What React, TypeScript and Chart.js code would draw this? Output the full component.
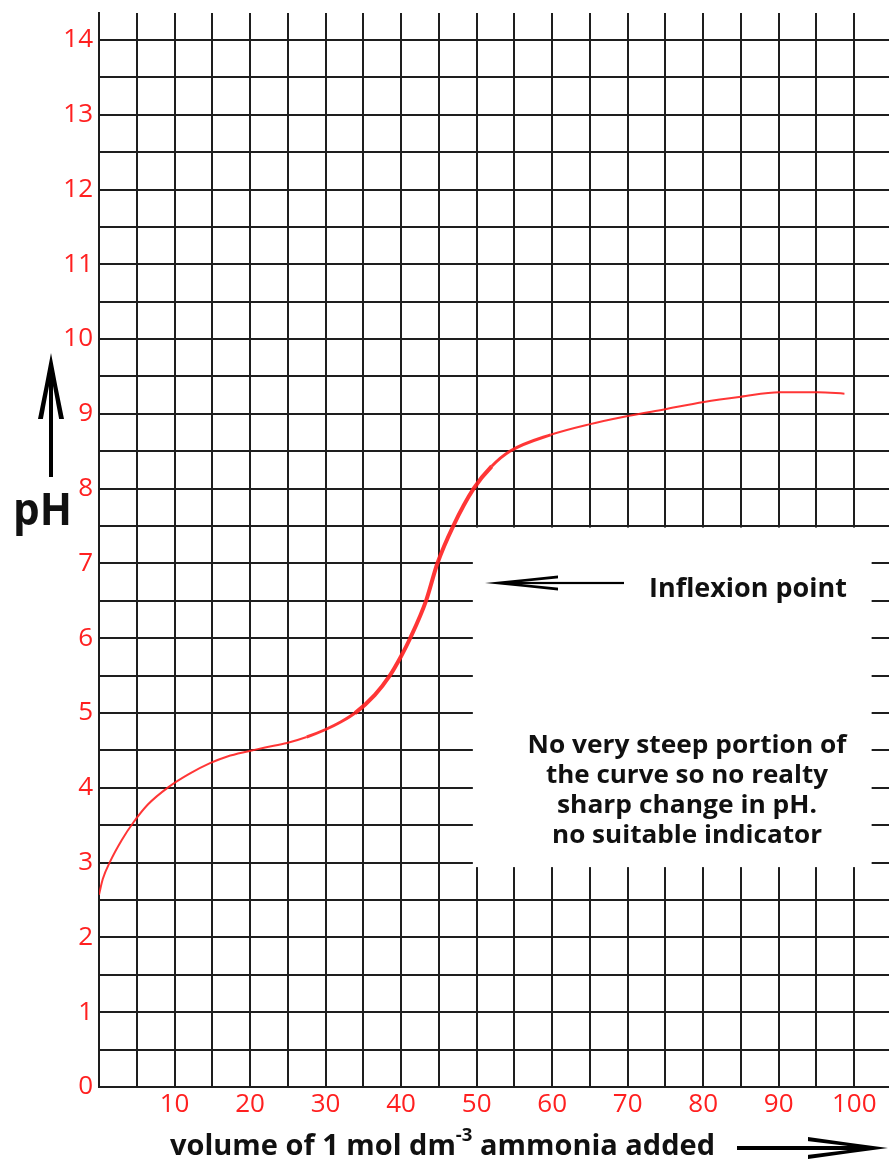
import React, { useEffect, useRef } from "react";
import { Chart, registerables } from "chart.js";

Chart.register(...registerables);

// ---- data ----
const volumes = [0, 0.5, 1.5, 3, 4.5, 6.5, 9.2, 12, 14.7, 17, 19.8, 22, 24.9, 27.5, 30, 32, 33.9, 36.5, 38.5, 40, 41.2, 43.3, 44.8, 46.9, 49.6, 52, 54.4, 59.8, 64.9, 70, 74.8, 80.1, 85, 90.1, 95.2, 98.7];
const phValues = [2.57, 2.78, 3.02, 3.3, 3.53, 3.78, 4.01, 4.19, 4.33, 4.42, 4.49, 4.54, 4.6, 4.68, 4.78, 4.88, 5.0, 5.24, 5.5, 5.76, 6.0, 6.5, 7.0, 7.5, 8.0, 8.3, 8.5, 8.72, 8.86, 8.97, 9.06, 9.16, 9.23, 9.29, 9.29, 9.27];

const xTickLabels = ["10", "20", "30", "40", "50", "60", "70", "80", "90", "100"];
const yTickLabels = ["0", "1", "2", "3", "4", "5", "6", "7", "8", "9", "10", "11", "12", "13", "14"];
const xGridStep = 5;
const yGridStep = 0.5;

const xTitleA = "volume of 1 mol dm";
const xTitleSup = "-3";
const xTitleB = " ammonia added";
const yTitle = "pH";
const inflexionText = "Inflexion point";
const noteLines = [
  "No very steep portion of",
  "the curve so no realty",
  "sharp change in pH.",
  "no suitable indicator",
];

// note box extent in data units
const boxVolume = [49.5, 102.3];
const boxPh = [2.94, 7.48];

const RED = "#ff2020";
const GRID = "#1e1e1e";
const FONT = "'Open Sans', 'Noto Sans', sans-serif";

function fitText(
  ctx: CanvasRenderingContext2D,
  text: string,
  x: number,
  y: number,
  font: string,
  width: number,
  align: CanvasTextAlign
) {
  ctx.save();
  ctx.font = font;
  const w = ctx.measureText(text).width;
  const s = width / w;
  ctx.translate(x, y);
  ctx.scale(s, 1);
  ctx.textAlign = align;
  ctx.textBaseline = "alphabetic";
  ctx.fillStyle = "#111";
  ctx.fillText(text, 0, 0);
  ctx.restore();
}

function arrow(
  ctx: CanvasRenderingContext2D,
  x0: number,
  y0: number,
  x1: number,
  y1: number,
  shaftW: number,
  L: number,
  hw: number
) {
  const ang = Math.atan2(y1 - y0, x1 - x0);
  const len = Math.hypot(x1 - x0, y1 - y0);
  ctx.save();
  ctx.translate(x1, y1);
  ctx.rotate(ang);
  // head
  ctx.fillStyle = "#000";
  ctx.beginPath();
  ctx.moveTo(0, 0);
  ctx.quadraticCurveTo(-0.5 * L, -0.47 * hw, -L, -hw);
  ctx.lineTo(-L, hw);
  ctx.quadraticCurveTo(-0.5 * L, 0.47 * hw, 0, 0);
  ctx.closePath();
  ctx.fill();
  // slits between barbs and shaft
  const bt = Math.max(2.2, hw * 0.36);
  ctx.fillStyle = "#fff";
  for (const sg of [-1, 1]) {
    ctx.beginPath();
    ctx.moveTo(-L - 1, sg * (hw - bt));
    ctx.lineTo(-0.5 * L, sg * shaftW * 0.5);
    ctx.lineTo(-L - 1, sg * shaftW * 0.5);
    ctx.closePath();
    ctx.fill();
  }
  // shaft
  ctx.fillStyle = "#000";
  ctx.fillRect(-len, -shaftW / 2, len - 0.5 * L, shaftW);
  ctx.restore();
}

const boxPlugin = {
  id: "noteBox",
  beforeDatasetsDraw(chart: any) {
    const { ctx, scales } = chart;
    const l = scales.x.getPixelForValue(boxVolume[0]);
    const r = scales.x.getPixelForValue(boxVolume[1]);
    const t = scales.y.getPixelForValue(boxPh[1]);
    const b = scales.y.getPixelForValue(boxPh[0]);
    ctx.save();
    ctx.fillStyle = "#fff";
    ctx.fillRect(l, t, r - l, b - t);
    ctx.restore();
  },
};

const decorPlugin = {
  id: "decor",
  afterDraw(chart: any) {
    const ctx: CanvasRenderingContext2D = chart.ctx;
    // y title with up arrow
    arrow(ctx, 51, 477, 51, 353, 4, 66, 13);
    fitText(ctx, yTitle, 13, 525, `bold 44px ${FONT}`, 59, "left");

    // x title with superscript
    ctx.save();
    const f1 = `bold 28px ${FONT}`;
    const f2 = `bold 18px ${FONT}`;
    ctx.font = f1;
    const wA = ctx.measureText(xTitleA).width;
    const wC = ctx.measureText(xTitleB).width;
    ctx.font = f2;
    const wB = ctx.measureText(xTitleSup).width;
    const s = 545 / (wA + wB + wC);
    ctx.translate(170, 1155);
    ctx.scale(s, 1);
    ctx.fillStyle = "#111";
    ctx.textBaseline = "alphabetic";
    ctx.font = f1;
    ctx.fillText(xTitleA, 0, 0);
    ctx.font = f2;
    ctx.fillText(xTitleSup, wA, -14);
    ctx.font = f1;
    ctx.fillText(xTitleB, wA + wB, 0);
    ctx.restore();
    arrow(ctx, 737, 1148, 888, 1148, 4, 80, 11);

    // inflexion annotation
    arrow(ctx, 624, 583, 485, 583, 2.2, 73, 7.5);
    fitText(ctx, inflexionText, 847, 597, `bold 27px ${FONT}`, 198, "right");

    const widths = [319, 282, 260, 270];
    const baselines = [753, 783, 813, 843];
    noteLines.forEach((t, i) =>
      fitText(ctx, t, 687, baselines[i], `bold 25px ${FONT}`, widths[i], "center")
    );
  },
};

function gridTicks(count: number, step: number) {
  const out: { value: number }[] = [];
  for (let i = 0; i <= count; i++) out.push({ value: Math.round(i * step * 1000) / 1000 });
  return out;
}

export default function App() {
  const ref = useRef<HTMLCanvasElement>(null);
  useEffect(() => {
    const canvas = ref.current!;
    const chart = new Chart(canvas, {
      type: "line",
      data: {
        datasets: [
          {
            data: volumes.map((v, i) => ({ x: v, y: phValues[i] })),
            borderColor: "rgba(255,32,32,0.9)",
            borderWidth: 2,
            pointRadius: 0,
            fill: false,
            cubicInterpolationMode: "monotone",
            segment: {
              borderWidth: (c: any) => {
                const m = (c.p0.parsed.x + c.p1.parsed.x) / 2;
                if (m < 27) return 2;
                if (m < 33) return 3;
                if (m < 53) return 4;
                if (m < 62) return 3;
                return 2;
              },
            },
          } as any,
        ],
      },
      options: {
        animation: false,
        responsive: false,
        devicePixelRatio: 1,
        events: [],
        layout: { padding: { top: 13, left: 0, right: 0, bottom: 0 } },
        plugins: { legend: { display: false }, tooltip: { enabled: false } },
        scales: {
          x: {
            type: "linear",
            min: 0,
            max: 104.6,
            afterBuildTicks: (s: any) => {
              s.ticks = gridTicks(xTickLabels.length * 2, xGridStep);
            },
            afterFit: (s: any) => {
              s.height = 77;
              s.paddingLeft = 0;
              s.paddingRight = 0;
            },
            ticks: {
              autoSkip: false,
              maxRotation: 0,
              color: RED,
              padding: 2,
              font: { family: FONT, size: 26 },
              callback: (v: any) => {
                const idx = Math.round(Number(v) / 10) - 1;
                return Number(v) % 10 === 0 && idx >= 0 ? xTickLabels[idx] : "";
              },
            },
            grid: { color: GRID, lineWidth: 2, drawTicks: false },
            border: { color: GRID, width: 2 },
          },
          y: {
            type: "linear",
            min: 0,
            max: 14.36,
            afterBuildTicks: (s: any) => {
              s.ticks = gridTicks((yTickLabels.length - 1) * 2, yGridStep);
            },
            afterFit: (s: any) => {
              s.width = 99;
              s.paddingTop = 0;
              s.paddingBottom = 0;
            },
            ticks: {
              autoSkip: false,
              color: RED,
              padding: 6,
              font: { family: FONT, size: 26 },
              callback: (v: any) =>
                Number.isInteger(Number(v)) ? yTickLabels[Number(v)] : "",
            },
            grid: { color: GRID, lineWidth: 2, drawTicks: false },
            border: { color: GRID, width: 2 },
          },
        },
      },
      plugins: [boxPlugin, decorPlugin],
    });
    return () => chart.destroy();
  }, []);
  return (
    <div style={{ position: "absolute", left: 0, top: 0, width: 889, height: 1164, background: "#fff" }}>
      <canvas ref={ref} width={889} height={1164} style={{ display: "block" }} />
    </div>
  );
}
